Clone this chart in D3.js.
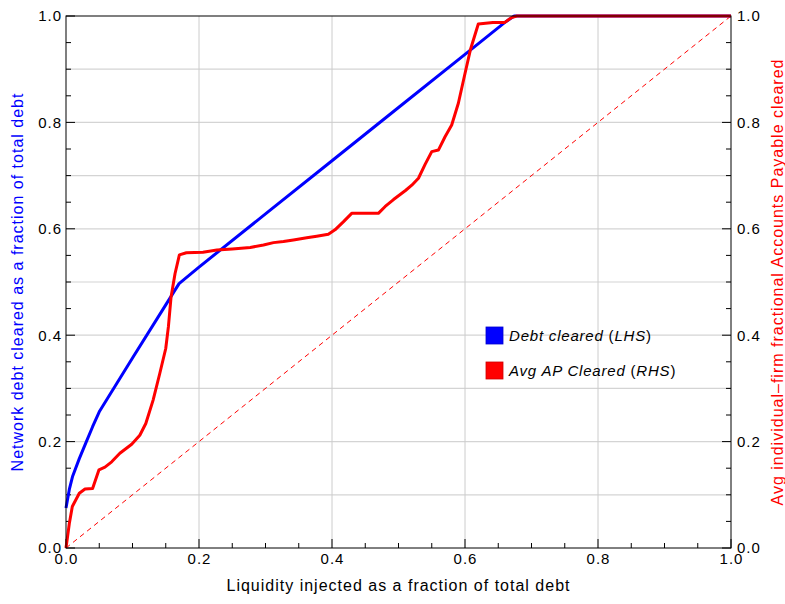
<!DOCTYPE html>
<html>
<head>
<meta charset="utf-8">
<script src="https://cdn.jsdelivr.net/npm/d3@7"></script>
<style>
  body { margin: 0; background: #fff; }
  svg text { font-family: "Liberation Sans", Arial, sans-serif; }
</style>
</head>
<body>
<div id="chart"></div>
<script>
// debt cleared (LHS)
var debtX = [0, 0.005, 0.01, 0.02, 0.03, 0.04, 0.05, 0.1, 0.15, 0.17, 0.2, 0.3, 0.4, 0.5, 0.6, 0.66, 0.674, 0.8, 1.0];
var debtY = [0.075, 0.11, 0.135, 0.168, 0.198, 0.228, 0.256, 0.357, 0.457, 0.497, 0.528, 0.628, 0.728, 0.828, 0.928, 0.988, 1.0, 1.0, 1.0];

// avg AP cleared (RHS)
var apX = [0, 0.005, 0.0095, 0.02, 0.0286, 0.04, 0.0496, 0.0586, 0.0687, 0.081, 0.0988, 0.111, 0.12, 0.131, 0.141, 0.15, 0.154, 0.158, 0.164, 0.1705, 0.181, 0.206, 0.227, 0.25, 0.277, 0.297, 0.312, 0.327, 0.342, 0.362, 0.377, 0.3945, 0.4045, 0.417, 0.4296, 0.4697, 0.48, 0.4925, 0.5105, 0.52, 0.53, 0.54, 0.55, 0.56, 0.57, 0.58, 0.59, 0.6, 0.608, 0.62, 0.642, 0.66, 0.67, 0.678, 1.0];
var apY = [0, 0.046, 0.078, 0.103, 0.111, 0.112, 0.147, 0.152, 0.162, 0.178, 0.195, 0.212, 0.234, 0.278, 0.328, 0.375, 0.416, 0.472, 0.516, 0.551, 0.555, 0.556, 0.56, 0.562, 0.565, 0.5695, 0.574, 0.576, 0.579, 0.583, 0.586, 0.5897, 0.598, 0.613, 0.629, 0.629, 0.642, 0.655, 0.672, 0.682, 0.695, 0.721, 0.745, 0.748, 0.773, 0.795, 0.836, 0.892, 0.936, 0.985, 0.988, 0.988, 0.997, 1.0, 1.0];

var diagX = [0, 1];
var diagY = [0, 1];

var tickLabels = ["0.0", "0.2", "0.4", "0.6", "0.8", "1.0"];
var legendNames = [["Debt cleared", "LHS"], ["Avg AP Cleared", "RHS"]];
var legendColors = ["#0000ff", "#ff0000"];

var W = 785, H = 604;
var margin = { left: 66, right: 54, top: 16, bottom: 56 };
var width = W - margin.left - margin.right;
var height = H - margin.top - margin.bottom;

var svg = d3.select("#chart").append("svg").attr("width", W).attr("height", H);
var g = svg.append("g").attr("transform", "translate(" + margin.left + "," + margin.top + ")");

var xs = d3.scaleLinear().domain([0, 1]).range([0, width]);
var ys = d3.scaleLinear().domain([0, 1]).range([height, 0]);
var ys2 = d3.scaleLinear().domain([0, 1]).range([height, 0]);

var majors = tickLabels.map(Number);
var minors = d3.range(0, 21).map(function (i) { return i / 20; });
var fine = d3.range(0, 11).map(function (i) { return i / 10; });

// grid
g.append("g").selectAll("line")
  .data(fine.slice(1, 10))
  .enter().append("line")
  .attr("x1", 0).attr("x2", width)
  .attr("y1", d => ys(d)).attr("y2", d => ys(d))
  .attr("stroke", "#d4d4d4").attr("stroke-width", 1.2);
g.append("g").selectAll("line")
  .data(majors.slice(1, 5))
  .enter().append("line")
  .attr("y1", 0).attr("y2", height)
  .attr("x1", d => xs(d)).attr("x2", d => xs(d))
  .attr("stroke", "#cccccc").attr("stroke-width", 1);

function isMajor(d) { return Math.abs(d * 5 - Math.round(d * 5)) < 1e-6; }

// axes (ticks inward)
var fmt = function (d) { return d.toFixed(1); };
var bottom = g.append("g").attr("transform", "translate(0," + height + ")")
  .call(d3.axisBottom(xs).tickValues(majors).tickFormat(fmt).tickSize(0).tickPadding(5));
var left = g.append("g")
  .call(d3.axisLeft(ys).tickValues(majors).tickFormat(fmt).tickSize(0).tickPadding(4));
var right = g.append("g").attr("transform", "translate(" + width + ",0)")
  .call(d3.axisRight(ys2).tickValues(majors).tickFormat(fmt).tickSize(0).tickPadding(6));
[bottom, left, right].forEach(function (a) {
  a.select(".domain").remove();
  a.selectAll("text").attr("fill", "#000").style("font-size", "15px")
    .style("letter-spacing", "1px")
    .style("font-family", "'Liberation Sans', Arial, sans-serif");
});

g.append("g").selectAll("line").data(minors).enter().append("line")
  .attr("x1", d => xs(d)).attr("x2", d => xs(d))
  .attr("y1", height).attr("y2", d => height - (isMajor(d) ? 9 : 5))
  .attr("stroke", "#000");
g.append("g").selectAll("line").data(minors).enter().append("line")
  .attr("y1", d => ys(d)).attr("y2", d => ys(d))
  .attr("x1", 0).attr("x2", d => isMajor(d) ? 9 : 5)
  .attr("stroke", "#000");
g.append("g").selectAll("line").data(minors).enter().append("line")
  .attr("y1", d => ys2(d)).attr("y2", d => ys2(d))
  .attr("x1", width).attr("x2", d => width - (isMajor(d) ? 9 : 5))
  .attr("stroke", "#000");

// diagonal reference
g.append("path")
  .datum(d3.zip(diagX, diagY))
  .attr("d", d3.line().x(d => xs(d[0])).y(d => ys2(d[1])))
  .attr("fill", "none").attr("stroke", "#ff0000").attr("stroke-width", 1)
  .attr("stroke-dasharray", "5,4");

// series
g.append("path")
  .datum(d3.zip(debtX, debtY))
  .attr("d", d3.line().x(d => xs(d[0])).y(d => ys(d[1])))
  .attr("fill", "none").attr("stroke", "#0000ff").attr("stroke-width", 3)
  .attr("stroke-linejoin", "round");
g.append("path")
  .datum(d3.zip(apX, apY))
  .attr("d", d3.line().x(d => xs(d[0])).y(d => ys2(d[1])))
  .attr("fill", "none").attr("stroke", "#ff0000").attr("stroke-width", 3)
  .attr("stroke-linejoin", "round");

// frame
g.append("rect").attr("width", width).attr("height", height)
  .attr("fill", "none").attr("stroke", "#000").attr("stroke-width", 1);

// legend
var legend = svg.append("g").attr("transform", "translate(486,327)");
legendNames.forEach(function (n, i) {
  var row = legend.append("g").attr("transform", "translate(0," + (i * 35) + ")");
  row.append("rect").attr("width", 17).attr("height", 17)
    .attr("fill", legendColors[i]).attr("stroke", d3.rgb(legendColors[i]).darker(0.6)).attr("stroke-width", 0.8);
  var t = row.append("text").attr("x", 23).attr("y", 14).style("font-size", "15px")
    .style("letter-spacing", "0.8px").attr("fill", "#000");
  t.append("tspan").style("font-style", "italic").text(n[0]);
  t.append("tspan").text(" (");
  t.append("tspan").style("font-style", "italic").text(n[1]);
  t.append("tspan").text(")");
});

// axis titles
svg.append("text")
  .attr("x", margin.left + width / 2).attr("y", 591)
  .attr("text-anchor", "middle").style("font-size", "16px").style("letter-spacing", "1px").attr("fill", "#000")
  .text("Liquidity injected as a fraction of total debt");
svg.append("text")
  .attr("transform", "translate(23," + (margin.top + height / 2) + ") rotate(-90)")
  .attr("text-anchor", "middle").style("font-size", "16px").style("letter-spacing", "1px").attr("fill", "#0000ff")
  .text("Network debt cleared as a fraction of total debt");
svg.append("text")
  .attr("transform", "translate(783," + (margin.top + height / 2) + ") rotate(-90)")
  .attr("text-anchor", "middle").style("font-size", "16px").style("letter-spacing", "1px").attr("fill", "#ff0000")
  .text("Avg individual\u2013firm fractional Accounts Payable cleared");
</script>
</body>
</html>
